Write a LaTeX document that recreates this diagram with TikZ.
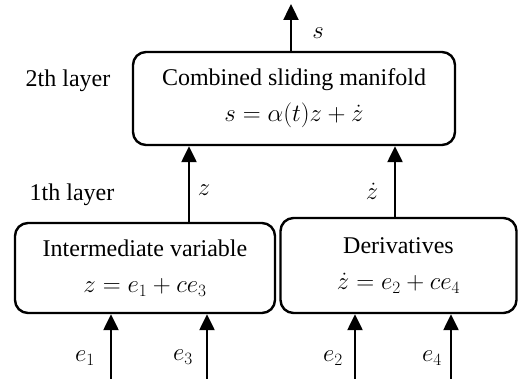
\documentclass[tikz,border=0pt]{standalone}
\usepackage{fontspec}
\setmainfont{Liberation Serif}
\usetikzlibrary{arrows.meta}
\tikzset{
  blk/.style={draw, line width=2.4pt, rounded corners=13pt, align=center, inner sep=0pt,
    font=\fontsize{24}{36}\selectfont},
  arr/.style={line width=2.4pt, -{Triangle[width=15pt,length=16pt]}},
  lbl/.style={font=\fontsize{24}{28}\selectfont, inner sep=0pt}
}
\begin{document}
\begin{tikzpicture}[x=1pt,y=-1pt]
\useasboundingbox (0,0) rectangle (519,379);
\node[blk, minimum width=322pt, minimum height=93pt] (top) at (294,98.5)
  {Combined sliding manifold\\ $s=\alpha(t)z+\dot z$};
\node[blk, minimum width=260pt, minimum height=90pt] (lb) at (145,268)
  {Intermediate variable\\ $z=e_1+ce_3$};
\node[blk, minimum width=236pt, minimum height=95pt] (rb) at (398.5,265.5)
  {Derivatives\\ $\dot z=e_2+ce_4$};
\coordinate (sout) at (291,4);
\coordinate (zx) at (189,0);
\coordinate (zdx) at (395,0);
\coordinate (i1) at (111,379);
\coordinate (i3) at (207,379);
\coordinate (i2) at (355,379);
\coordinate (i4) at (451,379);
\draw[arr] (top.north -| sout) -- (sout);
\draw[arr] (lb.north -| zx) -- (top.south -| zx);
\draw[arr] (rb.north -| zdx) -- (top.south -| zdx);
\draw[arr] (i1) -- (lb.south -| i1);
\draw[arr] (i3) -- (lb.south -| i3);
\draw[arr] (i2) -- (rb.south -| i2);
\draw[arr] (i4) -- (rb.south -| i4);
\node[lbl] (ls) at (318,33) {$s$};
\node[lbl] (l2) at (68,81) {2th layer};
\node[lbl] (l1) at (72,195) {1th layer};
\node[lbl] (lz) at (204,190) {$z$};
\node[lbl] (lzd) at (372,191) {$\dot z$};
\node[lbl] (le1) at (85,358) {$e_1$};
\node[lbl] (le3) at (183,357) {$e_3$};
\node[lbl] (le2) at (333,358) {$e_2$};
\node[lbl] (le4) at (432,358) {$e_4$};
\end{tikzpicture}
\end{document}
